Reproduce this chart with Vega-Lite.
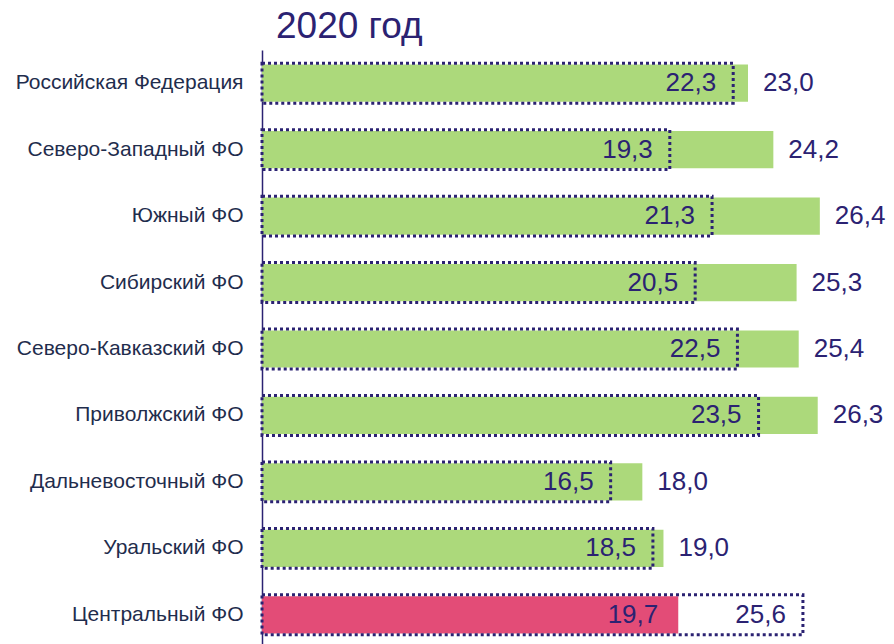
{
  "$schema": "https://vega.github.io/schema/vega-lite/v6.json",
  "autosize": {"type": "none"},
  "width": 632,
  "height": 598,
  "padding": {"left": 262, "top": 50, "right": 0, "bottom": 0},
  "background": "white",
  "title": {
    "text": "2020 год",
    "anchor": "start",
    "frame": "group",
    "fontSize": 37,
    "font": "Liberation Sans",
    "fontWeight": "normal",
    "color": "#2b2272",
    "baseline": "alphabetic",
    "offset": -25,
    "dx": 14
  },
  "config": {
    "view": {"stroke": null},
    "locale": {"number": {"decimal": ",", "thousands": " ", "grouping": [3], "currency": ["", ""]}}
  },
  "data": {
    "values": [
      {"region": "Российская Федерация", "value": 23.0, "ref": 22.3, "group": "other"},
      {"region": "Северо-Западный ФО", "value": 24.2, "ref": 19.3, "group": "other"},
      {"region": "Южный ФО", "value": 26.4, "ref": 21.3, "group": "other"},
      {"region": "Сибирский ФО", "value": 25.3, "ref": 20.5, "group": "other"},
      {"region": "Северо-Кавказский ФО", "value": 25.4, "ref": 22.5, "group": "other"},
      {"region": "Приволжский ФО", "value": 26.3, "ref": 23.5, "group": "other"},
      {"region": "Дальневосточный ФО", "value": 18.0, "ref": 16.5, "group": "other"},
      {"region": "Уральский ФО", "value": 19.0, "ref": 18.5, "group": "other"},
      {"region": "Центральный ФО", "value": 19.7, "ref": 25.6, "group": "central"}
    ]
  },
  "encoding": {
    "y": {
      "field": "region",
      "type": "nominal",
      "sort": null,
      "title": null,
      "scale": {"paddingInner": 0, "paddingOuter": 0},
      "axis": {
        "domainColor": "#2b2272",
        "domainWidth": 1.5,
        "ticks": false,
        "labelFontSize": 21,
        "labelFont": "Liberation Sans",
        "labelColor": "#1f2d4d",
        "labelPadding": 19,
        "labelLimit": 0
      }
    }
  },
  "layer": [
    {
      "mark": {"type": "bar", "height": {"band": 0.56}},
      "encoding": {
        "x": {"field": "value", "type": "quantitative", "scale": {"domain": [0, 29.91], "nice": false}, "axis": null},
        "color": {"field": "group", "type": "nominal", "scale": {"domain": ["other", "central"], "range": ["#acd97b", "#e34c77"]}, "legend": null}
      }
    },
    {
      "mark": {"type": "bar", "height": {"band": 0.6}, "fill": null, "fillOpacity": 0, "stroke": "#2b2272", "strokeWidth": 3, "strokeDash": [3, 3]},
      "encoding": {
        "x": {"field": "ref", "type": "quantitative"}
      }
    },
    {
      "mark": {"type": "text", "align": "right", "dx": -17, "fontSize": 26, "font": "Liberation Sans", "color": "#2b2272"},
      "encoding": {
        "x": {"field": "ref", "type": "quantitative"},
        "text": {"field": "ref", "type": "quantitative", "format": ".1f"}
      }
    },
    {
      "transform": [{"filter": "datum.value > datum.ref"}],
      "mark": {"type": "text", "align": "left", "dx": 15, "fontSize": 26, "font": "Liberation Sans", "color": "#2b2272"},
      "encoding": {
        "x": {"field": "value", "type": "quantitative"},
        "text": {"field": "value", "type": "quantitative", "format": ".1f"}
      }
    },
    {
      "transform": [{"filter": "datum.value <= datum.ref"}],
      "mark": {"type": "text", "align": "right", "dx": -20, "fontSize": 26, "font": "Liberation Sans", "color": "#2b2272"},
      "encoding": {
        "x": {"field": "value", "type": "quantitative"},
        "text": {"field": "value", "type": "quantitative", "format": ".1f"}
      }
    }
  ]
}
